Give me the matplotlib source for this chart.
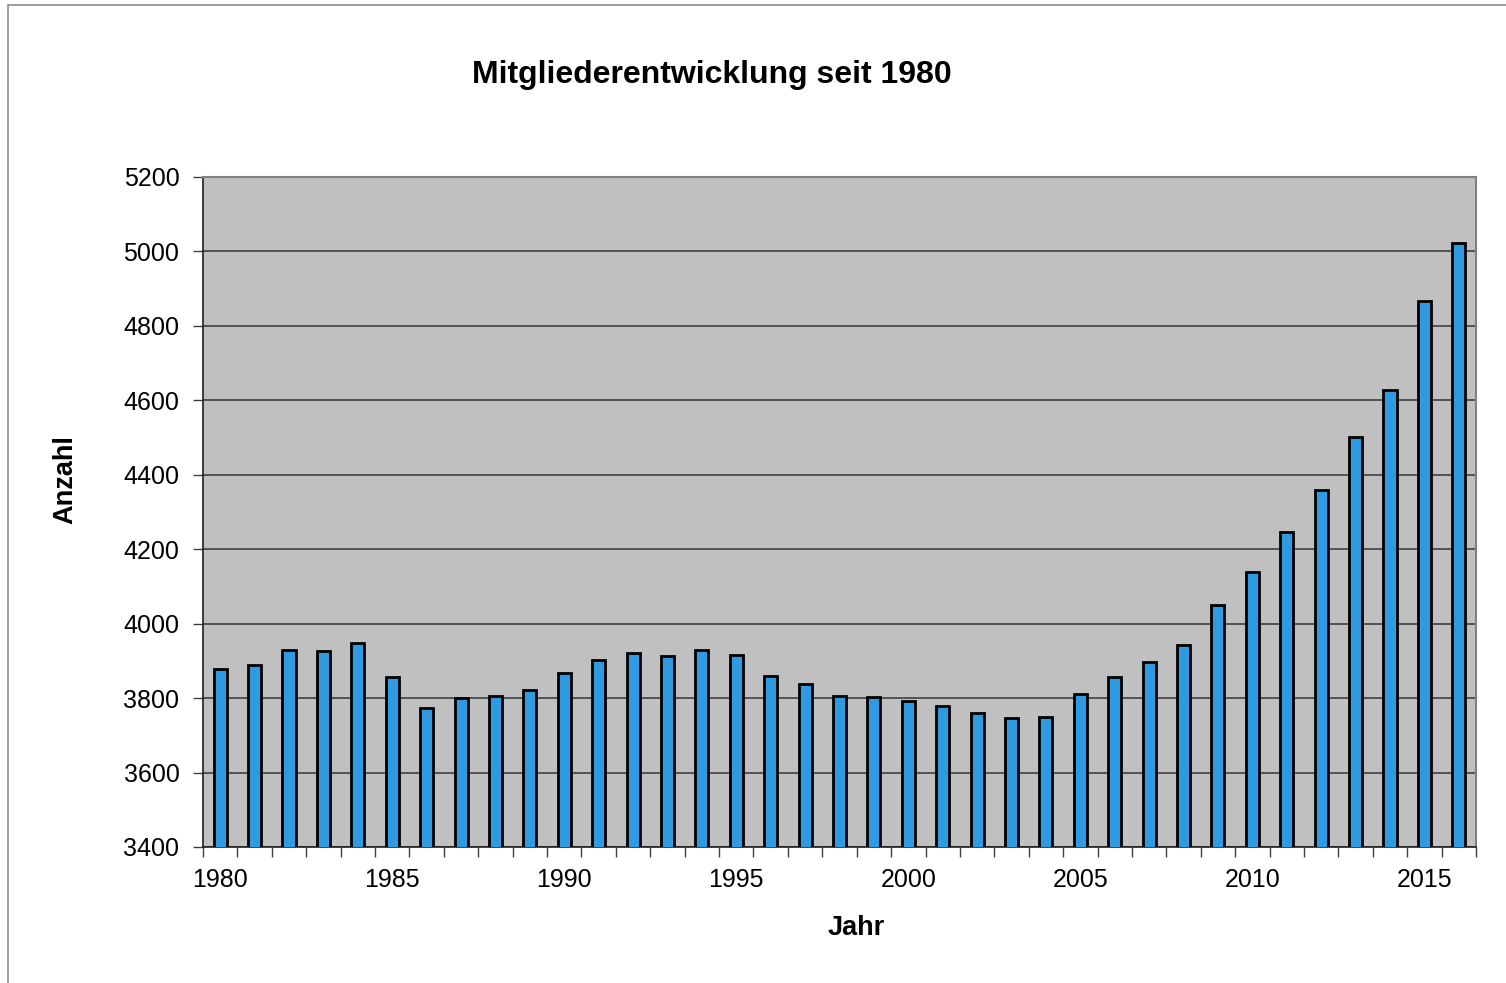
import matplotlib
matplotlib.use("Agg")
import matplotlib.pyplot as plt
from matplotlib.patches import Rectangle
from matplotlib.ticker import MultipleLocator, FixedLocator

plt.rcParams['font.family'] = ['Liberation Sans', 'DejaVu Sans']

# Mitglieder pro Jahr
years = list(range(1980, 2017))
members = [3878, 3889, 3929, 3926, 3947, 3857, 3773, 3800, 3806, 3822,
           3867, 3902, 3920, 3913, 3929, 3915, 3860, 3837, 3805, 3802,
           3791, 3779, 3760, 3746, 3749, 3810, 3856, 3897, 3943, 4050,
           4139, 4245, 4360, 4501, 4628, 4866, 5022]
label_years = [1980, 1985, 1990, 1995, 2000, 2005, 2010, 2015]

fig = plt.figure(figsize=(15.06, 9.83), dpi=100)
ax = fig.add_axes([203/1506, 1-847/983, (1476-203)/1506, (847-177)/983])

# chart border like the office chart frame
fig.patches.append(Rectangle((8/1506, -0.01), 1.1, 1-5/983+0.01, transform=fig.transFigure,
                             fill=False, edgecolor='#8c8c8c', linewidth=1.2))

x = list(range(len(years)))
ax.set_facecolor('#c0c0c0')
ax.bar(x, members, width=0.38, color='#2f9ae0', edgecolor='black', linewidth=2, zorder=3)

ax.set_xlim(-0.5, len(years) - 0.5)
ax.set_ylim(3400, 5200)
ax.yaxis.set_major_locator(MultipleLocator(200))
ax.grid(axis='y', color='#404040', linewidth=1.2, zorder=1)

ax.set_xticks([years.index(y) for y in label_years])
ax.set_xticklabels([str(y) for y in label_years])
ax.xaxis.set_minor_locator(FixedLocator([i - 0.5 for i in range(len(years) + 1)]))
ax.tick_params(axis='x', which='major', length=0, pad=15, labelsize=18)
ax.tick_params(axis='x', which='minor', length=7, width=1, color='#404040')
ax.tick_params(axis='y', length=7, width=1, color='#404040', pad=10, labelsize=18)

for side in ['top', 'right']:
    ax.spines[side].set_color('#808080')
    ax.spines[side].set_linewidth(1.5)
for side in ['left', 'bottom']:
    ax.spines[side].set_color('#202020')
    ax.spines[side].set_linewidth(1.2)

fig.text(712/1506, 1-75/983, 'Mitgliederentwicklung seit 1980', ha='center', va='center',
         fontsize=23, fontweight='bold')
fig.text(856/1506, 1-928/983, 'Jahr', ha='center', va='center', fontsize=19.5, fontweight='bold')
fig.text(65/1506, 1-480/983, 'Anzahl', ha='center', va='center', rotation=90,
         fontsize=19.5, fontweight='bold')

fig.savefig('out.png', dpi=100)
